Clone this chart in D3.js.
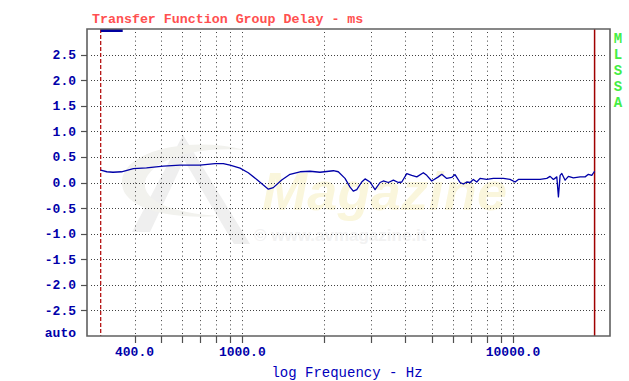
<!DOCTYPE html>
<html>
<head>
<meta charset="utf-8">
<script src="https://cdn.jsdelivr.net/npm/d3@7"></script>
<style>
  html, body { margin: 0; padding: 0; background: #fff; }
  svg { display: block; }
  text { font-family: "Liberation Mono", "DejaVu Sans Mono", monospace; }
</style>
</head>
<body>
<svg id="chart" width="629" height="381"></svg>
<script>
/* ── data ─────────────────────────────────────────────────────────── */

// group delay curve: frequency (Hz) and delay (ms)
const freqs = [
  300, 316, 333, 358, 396, 443, 511, 589, 698, 793, 851, 901, 981,
  1052, 1131, 1196, 1248, 1302, 1398, 1501, 1634, 1779, 1936, 2169, 2262,
  2395, 2500, 2570, 2647, 2761, 2840, 2963, 3092, 3227, 3318, 3463, 3613,
  3771, 3881, 4050, 4225, 4410, 4662, 4800, 5007, 5297, 5452, 5689, 5935,
  6105, 6372, 6553, 6745, 6937, 7134, 7343, 7552, 7995, 8456, 9208, 9748,
  10171, 10461, 11235, 12583, 13322, 13701, 14091, 14505, 14705, 14917,
  15134, 15565, 16009, 16703, 17683, 18450, 18975, 19530, 20000
];
const delays = [
  0.24, 0.21, 0.20, 0.21, 0.27, 0.285, 0.32, 0.34, 0.34, 0.37, 0.37, 0.34, 0.28,
  0.19, 0.06, -0.05, -0.13, -0.10, 0.05, 0.16, 0.21, 0.22, 0.20, 0.23, 0.21,
  0.08, -0.09, -0.17, -0.14, 0.01, 0.07, 0.01, -0.14, 0.00, 0.03, 0.00, 0.045,
  0.00, 0.01, 0.175, 0.14, 0.11, 0.19, 0.14, 0.03, 0.11, 0.16, 0.08, 0.10,
  0.155, 0.00, -0.03, 0.01, 0.00, 0.06, 0.01, 0.08, 0.06, 0.08, 0.08, 0.06,
  0.01, 0.06, 0.06, 0.06, 0.08, 0.12, 0.06, 0.11, -0.28, 0.14,
  0.175, 0.045, 0.12, 0.09, 0.11, 0.11, 0.16, 0.14, 0.22
];

const yTicks      = [2.5, 2.0, 1.5, 1.0, 0.5, 0.0, -0.5, -1.0, -1.5, -2.0, -2.5];
const xGridFreqs  = [400, 500, 600, 700, 800, 900, 1000,
                     2000, 3000, 4000, 5000, 6000, 7000, 8000, 9000, 10000];
const xLabelFreqs = [400, 1000, 10000];
const markerLow   = 300;     // red dashed cursor
const markerHigh  = 20000;   // red solid cursor

const titleText  = 'Transfer Function Group Delay - ms';
const xAxisLabel = 'log Frequency - Hz';
const sideLabel  = 'MLSSA';

/* ── layout ───────────────────────────────────────────────────────── */

const plot = { left: 87, right: 610, top: 29, bottom: 336 };

const svg = d3.select('#chart');

const x = d3.scaleLog().domain([267, 22800]).range([plot.left, plot.right]);
const y = d3.scaleLinear().domain([-3, 3]).range([plot.bottom, plot.top]);

/* ── watermark (faint logo) ───────────────────────────────────────── */

const wm = svg.append('g').attr('class', 'watermark');
wm.append('path')
  .attr('d', 'M183,135 L250,244 L234,244 L184,160 L150,232 L132,232 Z')
  .attr('fill', '#efefef');
wm.append('path')
  .attr('d', 'M122,180 C126,150 190,136 245,150 C195,146 150,160 145,182 C142,202 175,213 218,216 C166,220 119,207 122,180 Z')
  .attr('fill', '#f2f2ee');
wm.append('text')
  .attr('x', 262).attr('y', 210)
  .attr('font-size', 54).attr('font-weight', 'bold').attr('font-style', 'italic')
  .attr('fill', '#faf6dc')
  .attr('textLength', 245)
  .style('font-family', '"Liberation Sans", Arial, sans-serif')
  .text('Magazine');
wm.append('text')
  .attr('x', 254).attr('y', 241)
  .attr('font-size', 17).attr('font-weight', 'bold')
  .attr('fill', '#f2f2f2')
  .style('font-family', '"Liberation Sans", Arial, sans-serif')
  .text('© www.avmagazine.it');

/* ── grid ─────────────────────────────────────────────────────────── */

const grid = svg.append('g').attr('class', 'grid');

grid.selectAll('line.h').data(yTicks).join('line')
  .attr('class', 'h')
  .attr('x1', plot.left + 4).attr('x2', plot.right - 5)
  .attr('y1', d => Math.round(y(d)) + 0.5).attr('y2', d => Math.round(y(d)) + 0.5)
  .attr('stroke', '#404040').attr('stroke-width', 1)
  .attr('stroke-dasharray', '1,2');

grid.selectAll('line.v').data(xGridFreqs).join('line')
  .attr('class', 'v')
  .attr('x1', d => Math.round(x(d)) + 0.5).attr('x2', d => Math.round(x(d)) + 0.5)
  .attr('y1', plot.top + 3).attr('y2', plot.bottom - 2)
  .attr('stroke', '#404040').attr('stroke-width', 1)
  .attr('stroke-dasharray', '1,3.3');

/* ── cursors ──────────────────────────────────────────────────────── */

svg.append('line')
  .attr('x1', x(markerLow)).attr('x2', x(markerLow))
  .attr('y1', plot.top).attr('y2', plot.bottom)
  .attr('stroke', '#b00000').attr('stroke-width', 1.2)
  .attr('stroke-dasharray', '4,2');

svg.append('line')
  .attr('x1', x(markerHigh)).attr('x2', x(markerHigh))
  .attr('y1', plot.top).attr('y2', plot.bottom)
  .attr('stroke', '#a00000').attr('stroke-width', 1.5);

// small blue marker bar at the top next to the low cursor
svg.append('rect')
  .attr('x', x(markerLow)).attr('y', plot.top)
  .attr('width', 22).attr('height', 3)
  .attr('fill', '#0000a0');

/* ── curve ────────────────────────────────────────────────────────── */

const pts = freqs.map((f, i) => [f, delays[i]]);
const line = d3.line().x(d => x(d[0])).y(d => y(d[1]));

svg.append('path')
  .datum(pts)
  .attr('d', line)
  .attr('fill', 'none')
  .attr('stroke', '#0000a8')
  .attr('stroke-width', 1.3)
  .attr('stroke-linejoin', 'round');

/* ── frame & ticks ────────────────────────────────────────────────── */

svg.append('path')
  .attr('d', `M${plot.left},${plot.top}H${plot.right}V${plot.bottom}H${plot.left}Z`)
  .attr('fill', 'none')
  .attr('stroke', '#606060')
  .attr('stroke-width', 1.6);

svg.selectAll('line.ytick').data(yTicks).join('line')
  .attr('class', 'ytick')
  .attr('x1', plot.left - 6).attr('x2', plot.left)
  .attr('y1', d => Math.round(y(d)) + 0.5).attr('y2', d => Math.round(y(d)) + 0.5)
  .attr('stroke', '#505050').attr('stroke-width', 1.2);

svg.selectAll('line.xtick').data(xGridFreqs).join('line')
  .attr('class', 'xtick')
  .attr('x1', d => Math.round(x(d)) + 0.5).attr('x2', d => Math.round(x(d)) + 0.5)
  .attr('y1', plot.bottom).attr('y2', plot.bottom + 7)
  .attr('stroke', '#505050').attr('stroke-width', 1.2);

/* ── labels ───────────────────────────────────────────────────────── */

svg.selectAll('text.ylab').data(yTicks).join('text')
  .attr('class', 'ylab')
  .attr('x', 76).attr('y', d => y(d) + 4.5)
  .attr('text-anchor', 'end')
  .attr('font-size', 13).attr('font-weight', 'bold')
  .attr('fill', '#0000aa')
  .text(d => d3.format('.1f')(d).replace('−', '-'));

svg.append('text')
  .attr('x', 76).attr('y', 337)
  .attr('text-anchor', 'end')
  .attr('font-size', 13).attr('font-weight', 'bold')
  .attr('fill', '#0000aa')
  .text('auto');

svg.selectAll('text.xlab').data(xLabelFreqs).join('text')
  .attr('class', 'xlab')
  .attr('x', d => x(d)).attr('y', 356)
  .attr('text-anchor', 'middle')
  .attr('font-size', 13).attr('font-weight', 'bold')
  .attr('fill', '#0000aa')
  .text(d => d3.format('.1f')(d));

svg.append('text')
  .attr('x', 347).attr('y', 377)
  .attr('text-anchor', 'middle')
  .attr('font-size', 14)
  .attr('fill', '#0000bb')
  .text(xAxisLabel);

svg.append('text')
  .attr('x', 92).attr('y', 23)
  .attr('font-size', 13.3).attr('font-weight', 'bold')
  .attr('fill', '#ff5050')
  .text(titleText);

svg.selectAll('text.side').data(sideLabel.split('')).join('text')
  .attr('class', 'side')
  .attr('x', 618).attr('y', (d, i) => 43 + i * 16)
  .attr('text-anchor', 'middle')
  .attr('font-size', 14).attr('font-weight', 'bold')
  .attr('fill', '#44ee44')
  .text(d => d);
</script>
</body>
</html>
